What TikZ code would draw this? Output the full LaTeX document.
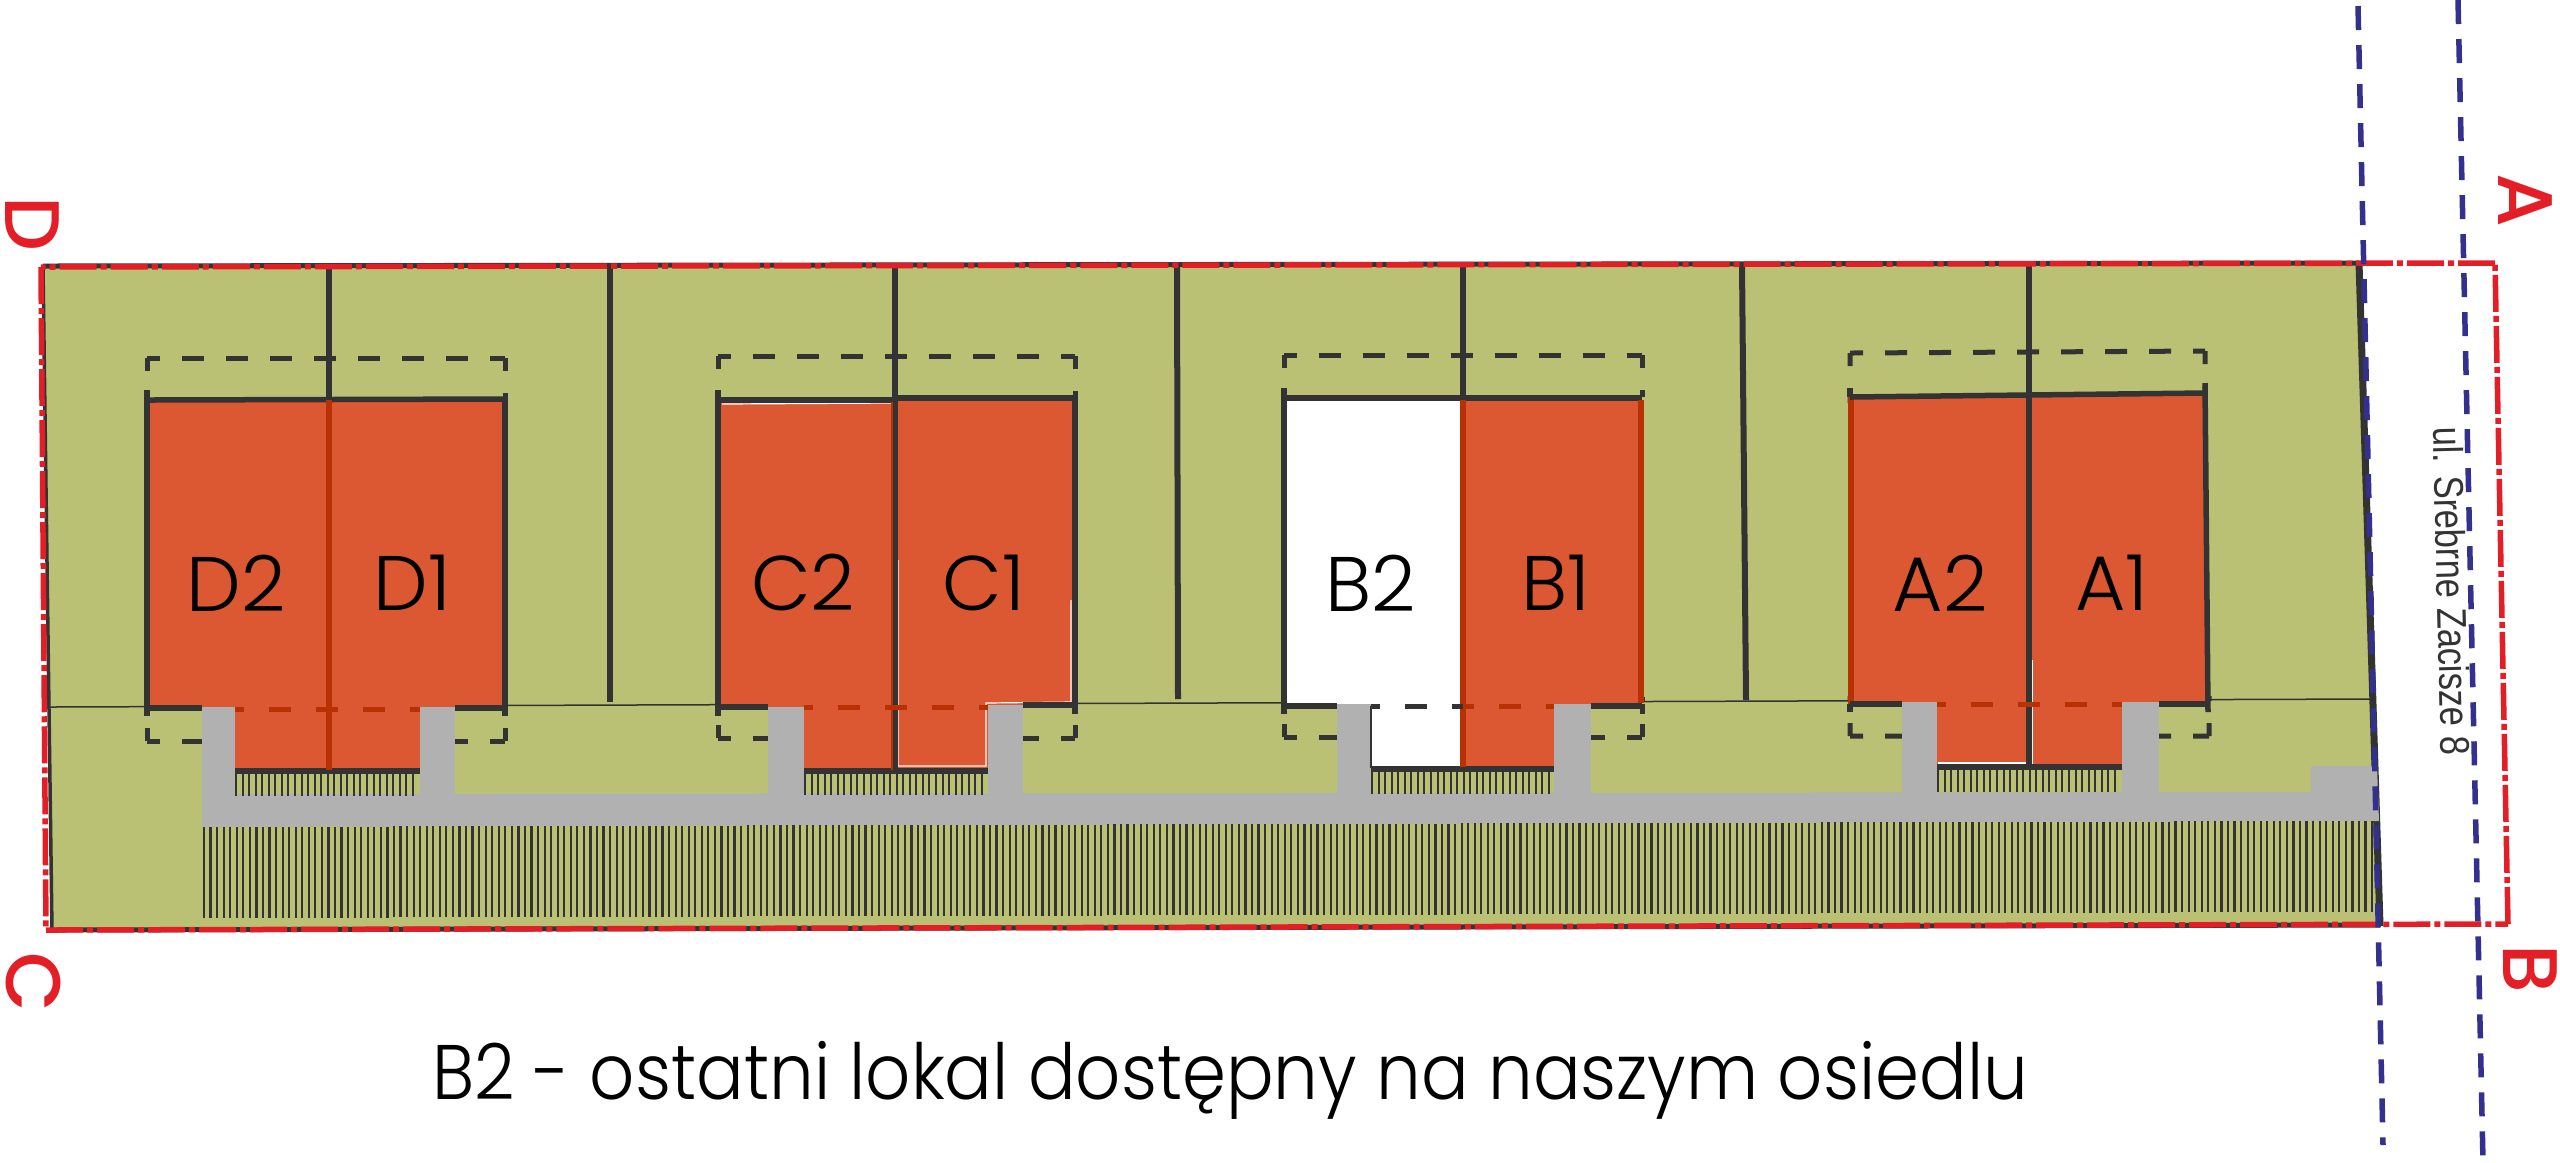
\documentclass[tikz,border=0pt]{standalone}
\usepackage{fontspec}
\usepackage{xcolor}
\newfontfamily\gothicfont{Poppins Light}
\newfontfamily\captionfont[FakeStretch=0.913]{Poppins Light}
\newfontfamily\cornerfont{Poppins Medium}
\newfontfamily\streetfont[FakeStretch=0.83]{Liberation Sans}
\definecolor{plot}{RGB}{187, 193, 116}
\definecolor{flat}{RGB}{220, 88, 50}
\definecolor{wallred}{RGB}{184, 49, 4}
\definecolor{road}{RGB}{176, 177, 176}
\definecolor{ink}{RGB}{51, 51, 51}
\definecolor{border}{RGB}{227, 30, 38}
\definecolor{axis}{RGB}{51, 48, 142}
\tikzstyle{wall} = [draw=ink, line width=0.055cm]
\tikzstyle{sidewall} = [draw=wallred, line width=0.06cm]
\tikzstyle{fence} = [draw=ink, line width=0.06cm]
\tikzstyle{thin} = [draw=ink, line width=0.015cm]
\tikzstyle{dashbox} = [draw=ink, line width=0.05cm, dash pattern=on 0.22cm off 0.22cm, dash phase=0.09cm]
\tikzstyle{frontdash} = [line width=0.05cm, dash pattern=on 0.22cm off 0.25cm, dash phase=0.13cm]
\tikzstyle{hatch} = [draw=ink, line width=0.022cm]
\tikzstyle{glint} = [draw=white, line width=0.012cm]
\tikzstyle{limit} = [draw=border, line width=0.055cm, dash pattern=on 0.37cm off 0.04cm on 0.06cm off 0.04cm]
\tikzstyle{axisline} = [draw=axis, line width=0.055cm, dash pattern=on 0.24cm off 0.15cm]
\tikzstyle{unit} = [inner sep=0pt, text=black, font=\gothicfont\fontsize{22}{26}\selectfont]
\tikzstyle{corner} = [inner sep=0pt, text=border, rotate=-90, font=\cornerfont\fontsize{22}{26}\selectfont]

\begin{document}
\begin{tikzpicture}[x=0.01cm, y=-0.01cm]
\useasboundingbox (0,0) rectangle (2560,1162);

% plot =============================
\fill[plot] (43,267) -- (2359,263) -- (2380,926) -- (52,930) -- cycle;
\draw[thin] (49,707) -- (2371,699);
\draw[draw=ink, line width=0.035cm] (43,267) -- (52,930);
\draw[draw=ink, line width=0.07cm] (2359,263) -- (2380,926);
\draw[draw=ink, line width=0.05cm] (43,266) -- (2359,263);
\draw[draw=ink, line width=0.05cm] (52,930) -- (2380,925);

% fences between the plots
\draw[fence] (329,264) -- (329,400);
\draw[fence] (610,264) -- (610,702);
\draw[fence] (895,264) -- (895,400);
\draw[fence] (1177,264) -- (1178,699);
\draw[fence] (1463,264) -- (1463,398);
\draw[fence] (1742,264) -- (1746,700);
\draw[fence] (2029,264) -- (2029,397);

% building lines
\draw[dashbox] (147,358) -- (505,358) (147,741) -- (505,741) (147,358) -- (147,408) (505,358) -- (505,400) (147,741) -- (147,701) (505,741) -- (505,701);
\draw[dashbox] (718,356) -- (1075,356) (718,738) -- (1075,738) (718,356) -- (718,406) (1075,356) -- (1075,398) (718,738) -- (718,698) (1075,738) -- (1075,698);
\draw[dashbox] (1284,355) -- (1642,355) (1284,737) -- (1642,737) (1284,355) -- (1284,405) (1642,355) -- (1642,397) (1284,737) -- (1284,697) (1642,737) -- (1642,697);
\draw[dashbox] (1850,353) -- (2205,351) (1850,736) -- (2209,736) (1850,353) -- (1850,403) (2205,351) -- (2205,393) (1850,736) -- (1850,696) (2209,736) -- (2209,696);

% flats
\fill[flat] (147,400) -- (505,400) -- (505,708) -- (420,708) -- (420,770) -- (235,770) -- (235,708) -- (147,708) -- cycle;
\fill[flat] (718,400) -- (1075,398) -- (1075,705) -- (988,705) -- (988,770) -- (804,770) -- (804,707) -- (718,707) -- cycle;
\fill[white] (1284,398) -- (1463,398) -- (1463,768) -- (1371,768) -- (1371,706) -- (1284,706) -- cycle;
\fill[flat] (1463,398) -- (1641,398) -- (1641,706) -- (1554,706) -- (1554,768) -- (1463,768) -- cycle;
\fill[flat] (1850,397) -- (2205,393) -- (2208,704) -- (2122,704) -- (2122,766) -- (1937,766) -- (1937,704) -- (1850,704) -- cycle;

% glints along the flats
\draw[glint] (898,560) -- (898,766) -- (986,766) -- (986,703) -- (1071,702) -- (1071,600);
\draw[glint] (722,404) -- (892,403);
\draw[glint] (2032,660) -- (2032,764);
\draw[glint] (1938,763) -- (2026,763);

% road =============================
\fill[road] (202,794) -- (2311,792) -- (2311,766) -- (2377,766) -- (2379,821) -- (202,827) -- cycle;
\fill[road] (202,707) rectangle (235,796);
\fill[road] (420,707) rectangle (455,796);
\fill[road] (768,707) rectangle (804,796);
\fill[road] (988,705) rectangle (1023,796);
\fill[road] (1337,704) rectangle (1371,796);
\fill[road] (1554,704) rectangle (1591,796);
\fill[road] (1902,702) rectangle (1937,794);
\fill[road] (2122,702) rectangle (2159,794);

% hatching
\foreach \x in {204,210.55,...,2376}
  \draw[hatch] (\x,{827-0.0028*(\x-203)}) -- (\x,{918-0.0028*(\x-203)});
\foreach \x in {236,242.55,...,419}
  \draw[hatch, line width=0.02cm] (\x,771) -- (\x,796);
\foreach \x in {805,811.55,...,987}
  \draw[hatch, line width=0.02cm] (\x,771) -- (\x,795);
\foreach \x in {1372,1378.55,...,1553}
  \draw[hatch, line width=0.02cm] (\x,769) -- (\x,794);
\foreach \x in {1938,1944.55,...,2121}
  \draw[hatch, line width=0.02cm] (\x,767) -- (\x,792);

% walls
% D
\draw[wall] (147,390) -- (147,716);
\draw[wall] (147,400) -- (505,399);
\draw[wall] (505,399) -- (505,716);
\draw[wall] (147,708) -- (202,708);
\draw[wall] (455,708) -- (505,708);
\draw[wall] (235,771) -- (420,771);
\draw[sidewall] (329,400) -- (329,770);
\draw[frontdash, wallred] (235,709) -- (420,709);
% C
\draw[wall] (718,390) -- (718,716);
\draw[wall] (718,400) -- (895,400);
\draw[wall] (895,398) -- (1075,398);
\draw[wall] (1075,398) -- (1075,714);
\draw[wall] (718,707) -- (768,707);
\draw[wall] (1023,705) -- (1075,705);
\draw[wall] (804,771) -- (988,771);
\draw[wall] (895,400) -- (895,770);
\draw[wallred, line width=0.02cm] (892,402) -- (892,770);
\draw[frontdash, wallred] (804,707) -- (988,707);
% B
\draw[wall] (1284,388) -- (1284,714);
\draw[wall] (1284,398) -- (1642,398);
\draw[wall] (1284,706) -- (1337,706);
\draw[wall] (1591,706) -- (1642,706);
\draw[wall] (1371,769) -- (1554,769);
\draw[sidewall] (1463,400) -- (1463,767);
\draw[sidewall] (1641,400) -- (1641,703);
\draw[ink, line width=0.02cm] (1371,706) -- (1371,768);
\draw[ink, line width=0.05cm] (1642,704) -- (1642,714);
\draw[frontdash, ink] (1371,706) -- (1463,706);
\draw[frontdash, wallred, dash phase=0.11cm] (1463,706) -- (1554,706);
% A
\draw[wall] (1850,388) -- (1850,397);
\draw[wall] (1850,704) -- (1850,712);
\draw[sidewall] (1851,397) -- (1851,704);
\draw[wall] (1850,397) -- (2205,393);
\draw[wall] (2205,383) -- (2208,712);
\draw[wall] (1850,704) -- (1902,704);
\draw[wall] (2159,704) -- (2208,704);
\draw[wall] (1937,767) -- (2122,767);
\draw[wall] (2029,395) -- (2029,766);
\draw[frontdash, wallred] (1937,704) -- (2122,704);

% boundaries =============================
\draw[limit] (2495,263) -- (41,267);
\draw[limit] (41,267) -- (46,930);
\draw[limit] (46,930) -- (2508,924);
\draw[limit] (2508,924) -- (2495,263);
\draw[axisline] (2358,6) -- (2383,1145);
\draw[axisline] (2458,0) -- (2483,1162);

% labels =============================
\node[unit] (d2) at (236,583) {D2};
\node[unit] (d1) at (412,583) {D1};
\node[unit] (c2) at (803,583) {C2};
\node[unit] (c1) at (984,583) {C1};
\node[unit] (b2) at (1371,583) {B2};
\node[unit] (b1) at (1556,583) {B1};
\node[unit] (a2) at (1940,583) {A2};
\node[unit] (a1) at (2112,583) {A1};

\node[corner] (cornerd) at (32,224) {D};
\node[corner] (cornerc) at (34,982) {C};
\node[corner] (cornera) at (2525,200) {A};
\node[corner] (cornerb) at (2530,969) {B};

\node[inner sep=0pt, text=ink, rotate=-88.6, font=\streetfont\fontsize{11.8}{14}\selectfont] (street) at (2452,591) {ul. Srebrne Zacisze 8};
\node[inner sep=0pt, anchor=base, text=black, font=\captionfont\fontsize{22}{26}\selectfont] (caption) at (1230,1099) {B2 - ostatni lokal dostępny na naszym osiedlu};

\end{tikzpicture}
\end{document}
